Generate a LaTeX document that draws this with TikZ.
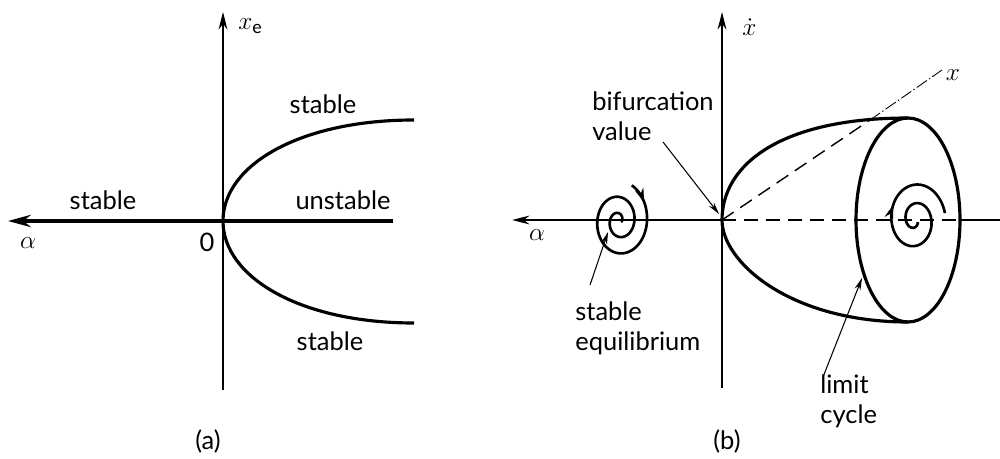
\documentclass[tikz,border=0pt]{standalone}
\usepackage{amsmath}
\usepackage{fontspec}
\setmainfont{Lato}
\usetikzlibrary{arrows.meta, positioning, calc, decorations.markings}

\begin{document}
\begin{tikzpicture}[
    x=0.02cm, y=-0.02cm,
    font=\fontsize{14.5}{17}\selectfont,
    >=Stealth,
    axis/.style={line width=0.8pt},
    axisarrow/.style={->, line width=0.8pt, >={Stealth[length=10pt, width=5pt]}},
    branch/.style={line width=1.8pt},
    pointer/.style={->, line width=0.6pt, >={Stealth[length=7pt, width=3.5pt]}},
    lbl/.style={inner sep=0pt, align=left},
    flowarrow/.style={postaction={decorate}, decoration={markings, mark=at position #1 with {\arrow{Stealth[length=8pt, width=5pt]}}}},
]
    \useasboundingbox (0,0) rectangle (1000,459);

    % (a) pitchfork
    \coordinate (Oa) at (223,221);
    \coordinate (atop) at (223,12);
    \coordinate (abot) at (223,390);
    \coordinate (aleft) at (8,221);
    \coordinate (aright) at (393,221);
    \coordinate (aup) at (414,120);
    \coordinate (adn) at (414,323);

    \draw[axisarrow] (abot) -- (atop);
    \draw[axisarrow, line width=2pt, >={Stealth[length=13pt, width=7pt]}] (aright) -- (aleft);
    \draw[branch] (Oa) .. controls (223,165) and (300,120) .. (aup);
    \draw[branch] (Oa) .. controls (223,277) and (300,323) .. (adn);

    \node[lbl, anchor=west] (xe) at (238,26) {$x_{\mathrm{e}}$};
    \node[lbl] (alpha_a) at (28,243) {$\alpha$};
    \node[lbl] (zero) at (207,242) {0};
    \node[lbl] (stab_left) at (103,200) {stable};
    \node[lbl] (unstab) at (343,200) {unstable};
    \node[lbl] (stab_up) at (323,104) {stable};
    \node[lbl] (stab_dn) at (330,341) {stable};
    \node[lbl] (cap_a) at (208,441) {(a)};

    % (b) Hopf
    \coordinate (Ob) at (722,220);
    \coordinate (btop) at (722,12);
    \coordinate (bbot) at (722,388);
    \coordinate (bleft) at (512,220);
    \coordinate (bright) at (1000,220);
    \coordinate (ring) at (908,220);
    \coordinate (rim) at (960,220);
    \coordinate (bend) at (870,120);
    \coordinate (xend) at (942,70);
    \coordinate (bup) at (908,118);
    \coordinate (bdn) at (908,322);

    \draw[axisarrow] (bbot) -- (btop);
    \draw[axisarrow] (Ob) -- (bleft);
    \draw[axis, dash pattern=on 8pt off 4.5pt] (Ob) -- (rim);
    \draw[axis] (rim) -- (bright);
    \draw[axis, dash pattern=on 8pt off 4.5pt] (Ob) -- (bend);
    \draw[line width=0.5pt, dash pattern=on 7pt off 1.5pt on 0.8pt off 1.5pt] (bend) -- (xend);

    \draw[branch] (Ob) .. controls (722,165) and (780,118) .. (bup);
    \draw[branch] (Ob) .. controls (722,262) and (790,322) .. (bdn);
    \draw[branch] (ring) ellipse [x radius=1.04cm, y radius=2.04cm];

    % spirals
    \draw[line width=1.5pt, flowarrow=0.08] plot[domain=-65:740, samples=200, variable=\t]
        ({619 + (28-0.035*\t)*cos(\t)}, {221 + 1.3*(28-0.035*\t)*sin(\t)});
    \draw[line width=1.5pt, flowarrow=0.67] plot[domain=-330:350, samples=200, variable=\t]
        ({915 + (2+0.04*(\t+360))*cos(\t)}, {220 + 1.3*(2+0.04*(\t+360))*sin(\t)});

    \node[lbl, anchor=west] (xdot) at (742,27) {$\dot{x}$};
    \node[lbl] (xlab) at (953,75) {$x$};
    \node[lbl] (alpha_b) at (537,235) {$\alpha$};
    \node[lbl, anchor=west] (bif) at (592,116) {bifurcation\\value};
    \node[lbl, anchor=west] (stabeq) at (575,328) {stable\\equilibrium};
    \node[lbl, anchor=west] (limcyc) at (820,401) {limit\\cycle};
    \node[lbl] (cap_b) at (727,441) {(b)};

    \coordinate (bif_tail) at (663,142);
    \coordinate (bif_tip) at (719,214);
    \coordinate (eq_tail) at (590,285);
    \coordinate (eq_tip) at (608,232);
    \coordinate (lc_tail) at (823,377);
    \coordinate (lc_tip) at (862,278);

    \draw[pointer] (bif_tail) -- (bif_tip);
    \draw[pointer] (eq_tail) -- (eq_tip);
    \draw[pointer] (lc_tail) -- (lc_tip);

\end{tikzpicture}
\end{document}
